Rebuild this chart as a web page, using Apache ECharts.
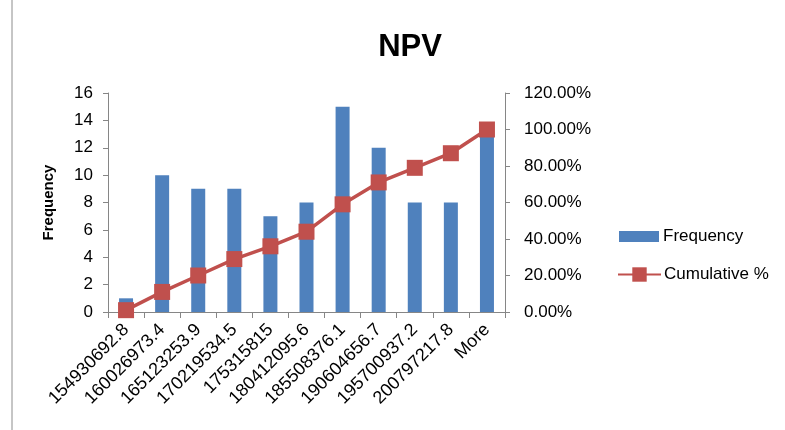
<!DOCTYPE html>
<html><head><meta charset="utf-8">
<script src="https://cdn.jsdelivr.net/npm/echarts@6/dist/echarts.min.js"></script>
<style>html,body{margin:0;padding:0;background:#fff}#c{width:785px;height:430px}</style>
</head><body><div id="c"></div>
<script>
const categories = ['154930692.8','160026973.4','165123253.9','170219534.5','175315815','180412095.6','185508376.1','190604656.7','195700937.2','200797217.8','More'];
const frequency = [1,10,9,9,7,8,15,12,8,8,13];
const cumulative = [1,11,20,29,36,44,59,71,79,87,100];
const F = 'Liberation Sans, Arial, sans-serif';
const chart = echarts.init(document.getElementById('c'));
chart.setOption({
  animation:false,
  textStyle:{fontFamily:F},
  title:{text:'NPV',left:405,top:27,textAlign:'center',textStyle:{fontSize:31,fontWeight:'bold',color:'#000',fontFamily:F}},
  graphic:[{type:'rect',shape:{x:12,y:-2,width:800,height:440},style:{fill:'none',stroke:'#8c8c8c',lineWidth:1}}],
  legend:[
    {left:619,top:228,padding:0,itemWidth:40,itemHeight:11,itemGap:5,
     textStyle:{fontSize:17,color:'#000',fontFamily:F,padding:[0,0,0,-1]},
     data:[{name:'Frequency',icon:'rect'}]},
    {left:617,top:266,padding:0,itemWidth:43,itemHeight:18,itemGap:5,
     textStyle:{fontSize:17,color:'#000',fontFamily:F,padding:[0,0,0,-2]},
     data:[{name:'Cumulative %'}]}
  ],
  grid:{left:108,right:280,top:93,bottom:118},
  xAxis:{type:'category',data:categories,
    axisLine:{lineStyle:{color:'#868686'}},
    axisTick:{show:true,length:6,lineStyle:{color:'#868686'}},
    axisLabel:{rotate:45,fontSize:18,color:'#000',interval:0,margin:15}},
  yAxis:[
    {type:'value',min:0,max:16,interval:2,name:'Frequency',nameLocation:'middle',nameGap:52,
     nameTextStyle:{fontSize:15,fontWeight:'bold',color:'#000'},
     splitLine:{show:false},axisLine:{show:true,lineStyle:{color:'#868686'}},
     axisTick:{show:true,length:5,lineStyle:{color:'#868686'}},
     axisLabel:{fontSize:17,color:'#000',margin:15}},
    {type:'value',min:0,max:120,interval:20,splitLine:{show:false},
     axisLine:{show:true,lineStyle:{color:'#868686'}},
     axisTick:{show:true,length:5,lineStyle:{color:'#868686'}},
     axisLabel:{fontSize:17,color:'#000',margin:19,formatter:v=>v.toFixed(2)+'%'}}
  ],
  series:[
    {name:'Frequency',type:'bar',data:frequency,barWidth:14,itemStyle:{color:'#4F81BD'}},
    {name:'Cumulative %',type:'line',yAxisIndex:1,data:cumulative,symbol:'rect',symbolSize:16,
     lineStyle:{color:'#C0504D',width:3.5},itemStyle:{color:'#C0504D'}}
  ]
});
</script></body></html>
